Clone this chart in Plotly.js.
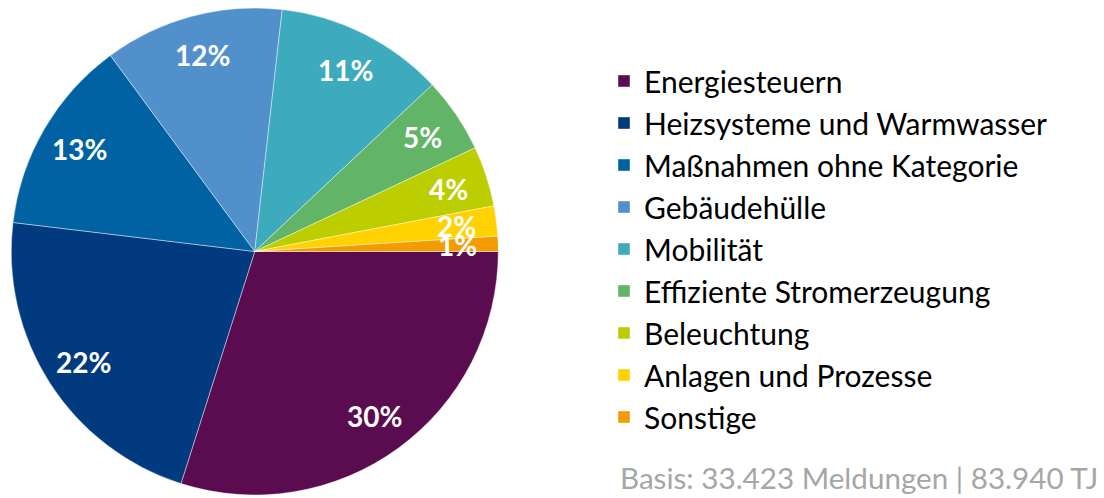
<!DOCTYPE html>
<html><head><meta charset="utf-8">
<script src="https://cdn.plot.ly/plotly-3.0.1.min.js"></script>
<style>html,body{margin:0;padding:0;background:#fff}</style>
</head><body><div id="chart" style="width:1104px;height:498px"></div>
<script>
const categories = ["Energiesteuern", "Heizsysteme und Warmwasser", "Maßnahmen ohne Kategorie", "Gebäudehülle", "Mobilität", "Effiziente Stromerzeugung", "Beleuchtung", "Anlagen und Prozesse", "Sonstige"];
const shares = [29.9, 22.0, 13.0, 11.9, 11.2, 5.0, 4.0, 2.0, 1.0];
const colors = ["#5B0B4F", "#023A80", "#0062A3", "#5190CB", "#3DABBD", "#62B466", "#BDCE00", "#FFD200", "#F49B00"];
const note = "Basis: 33.423 Meldungen | 83.940 TJ";

const W = 1104, H = 498;
const dom = {x: [11.25 / W, 498.25 / W], y: [1 - 495.25 / H, 1 - 7.75 / H]};
const cx = W * (dom.x[0] + dom.x[1]) / 2;
const cy = H * (1 - (dom.y[0] + dom.y[1]) / 2);
const R = Math.min(W * (dom.x[1] - dom.x[0]), H * (dom.y[1] - dom.y[0])) / 2;
const labelFrac = 0.835;

const total = shares.reduce((a, b) => a + b, 0);
const annotations = [];
let cum = 0;
shares.forEach((v) => {
  const th = 2 * Math.PI * (cum + v / 2) / total;
  cum += v;
  annotations.push({
    x: (cx + R * labelFrac * Math.cos(th)) / W,
    y: 1 - (cy + R * labelFrac * Math.sin(th)) / H,
    xref: "paper", yref: "paper", showarrow: false,
    xanchor: "center", yanchor: "middle",
    text: Math.round(v / total * 100) + "%",
    font: {family: "Lato", size: 28, color: "#ffffff", weight: "bold"}
  });
});
annotations.push({
  x: 1100 / W, y: 1 - 477 / H, xref: "paper", yref: "paper",
  xanchor: "right", yanchor: "middle", showarrow: false,
  text: note, font: {family: "Lato", size: 29.6, color: "#A6A6A6"}
});

const data = [{
  type: "pie",
  labels: categories,
  values: shares,
  sort: false,
  direction: "clockwise",
  rotation: 90,
  textinfo: "none",
  domain: dom,
  marker: {colors: colors, line: {color: "rgba(255,255,255,0.6)", width: 0.7}}
}];

const layout = {
  width: W, height: H,
  margin: {l: 0, r: 0, t: 0, b: 0},
  paper_bgcolor: "#ffffff",
  showlegend: true,
  legend: {
    x: 604 / W, y: 1 - 55 / H, xanchor: "left", yanchor: "top",
    font: {family: "Lato", size: 30, color: "#000000"},
    bgcolor: "rgba(0,0,0,0)"
  },
  annotations: annotations
};

Plotly.newPlot("chart", data, layout, {displayModeBar: false, staticPlot: true});
</script></body></html>
